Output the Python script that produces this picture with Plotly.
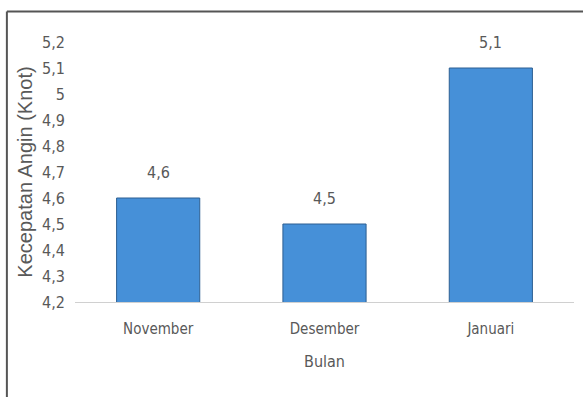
import plotly.graph_objects as go

# Average monthly wind speed
bulan = ["November", "Desember", "Januari"]
kecepatan = [4.6, 4.5, 5.1]
y_ticks = [4.2, 4.3, 4.4, 4.5, 4.6, 4.7, 4.8, 4.9, 5.0, 5.1, 5.2]

NARROW = "DejaVu Sans Condensed, Liberation Sans Narrow, sans-serif"
TEXT_GRAY = "#595959"


def koma(v):
    s = f"{v:.1f}".replace(".", ",")
    return s[:-2] if s.endswith(",0") else s


fig = go.Figure()
fig.add_trace(go.Bar(
    x=bulan,
    y=kecepatan,
    marker=dict(color="#4690d8", line=dict(color="#2d5f92", width=1)),
    width=0.5,
    showlegend=False,
))

# value labels above each bar
for b, v in zip(bulan, kecepatan):
    fig.add_annotation(
        x=b, y=v, text=koma(v),
        showarrow=False, yanchor="bottom", yshift=14,
        font=dict(family=NARROW, size=16, color=TEXT_GRAY),
    )

# outer frame (top and left edges)
fig.add_shape(type="line", xref="paper", yref="paper",
              x0=-0.1365, x1=1.05, y0=1.117, y1=1.117,
              line=dict(color="#555555", width=2))
fig.add_shape(type="line", xref="paper", yref="paper",
              x0=-0.1365, x1=-0.1365, y0=1.117, y1=-0.4,
              line=dict(color="#555555", width=2))

fig.update_layout(
    width=583, height=397,
    margin=dict(l=75, r=9, t=42, b=95),
    paper_bgcolor="white", plot_bgcolor="white",
    xaxis=dict(
        showline=True, linecolor="#d0d0d0", linewidth=1,
        ticks="", showgrid=False,
        ticklabelstandoff=13,
        tickfont=dict(family=NARROW, size=15, color=TEXT_GRAY),
        title=dict(text="Bulan", font=dict(family=NARROW, size=16, color=TEXT_GRAY), standoff=18),
    ),
    yaxis=dict(
        range=[4.2, 5.2], tickvals=y_ticks,
        ticktext=[koma(t) for t in y_ticks],
        showgrid=False, zeroline=False, showline=False, ticks="",
        ticklabelstandoff=9,
        tickfont=dict(family=NARROW, size=16, color=TEXT_GRAY),
        title=dict(text="Kecepatan Angin (Knot)",
                   font=dict(family="Liberation Sans, Arial, sans-serif", size=20, color=TEXT_GRAY),
                   standoff=4),
    ),
)

fig.write_html("out.html")
